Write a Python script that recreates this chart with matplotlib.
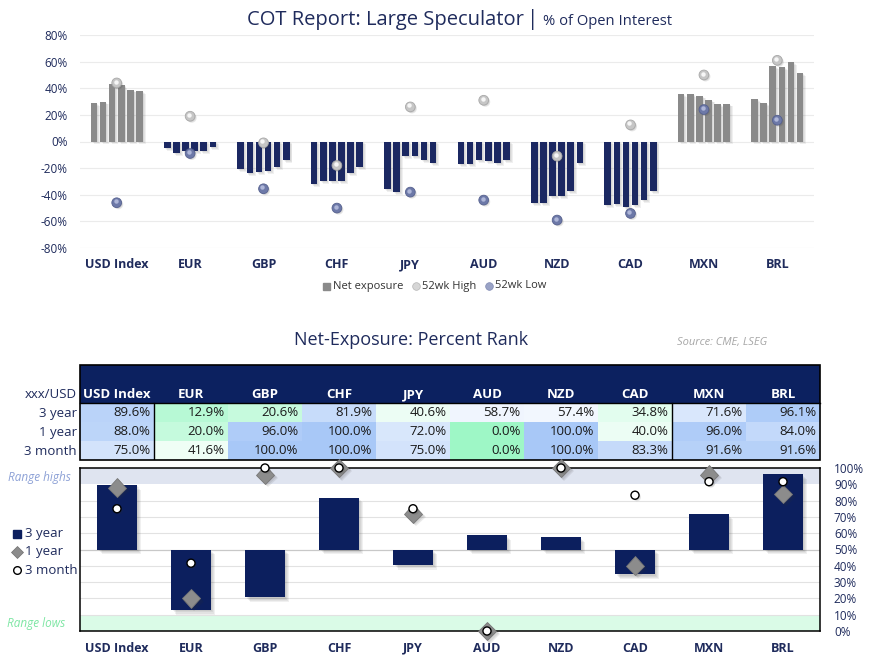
import matplotlib
matplotlib.use('Agg')
import matplotlib.pyplot as plt
import matplotlib.patheffects as pe
import matplotlib.transforms as mtransforms
import numpy as np
from matplotlib.colors import LinearSegmentedColormap
from matplotlib.patches import Rectangle

plt.rcParams['font.family'] = ['Open Sans', 'DejaVu Sans']

# ---------------- data ----------------
categories = ['USD Index', 'EUR', 'GBP', 'CHF', 'JPY', 'AUD', 'NZD', 'CAD', 'MXN', 'BRL']

# Net exposure, last 6 weeks (% of open interest)
net_usd = [29, 30, 43, 42.5, 39, 38]
net_eur = [-5, -9, -7.5, -7.5, -7.5, -4.5]
net_gbp = [-21, -24, -23, -22, -19.5, -14]
net_chf = [-32, -30, -30, -29.5, -24, -19]
net_jpy = [-36, -38, -11, -11, -14, -16]
net_aud = [-17, -17, -14, -15, -16, -14]
net_nzd = [-46, -46, -41, -41, -37, -16]
net_cad = [-48, -47, -49, -48, -44, -37]
net_mxn = [35.5, 35.5, 34.5, 31.5, 28, 28.5]
net_brl = [32, 29, 57, 56, 60, 51.5]
net_exposure = [net_usd, net_eur, net_gbp, net_chf, net_jpy,
                net_aud, net_nzd, net_cad, net_mxn, net_brl]

high_52wk = [44, 19, -1, -18, 26, 31, -11, 12.5, 50, 61]
low_52wk = [-46, -9, -35.5, -50, -38, -44, -59, -54, 24, 16]

rank_labels = ['3 year', '1 year', '3 month']
rank_3y = [89.6, 12.9, 20.6, 81.9, 40.6, 58.7, 57.4, 34.8, 71.6, 96.1]
rank_1y = [88.0, 20.0, 96.0, 100.0, 72.0, 0.0, 100.0, 40.0, 96.0, 84.0]
rank_3m = [75.0, 41.6, 100.0, 100.0, 75.0, 0.0, 100.0, 83.3, 91.6, 91.6]

top_ticks = [-80, -60, -40, -20, 0, 20, 40, 60, 80]
bottom_ticks = [0, 10, 20, 30, 40, 50, 60, 70, 80, 90, 100]

# ---------------- style ----------------
NAVY_TXT = '#1f2b5c'
NAVY_BAR = '#1b2862'
NAVY_HDR = '#0c2160'
NAVY_BAR2 = '#0c1f5e'
GRAY_BAR = '#8a8a8a'

W, H = 873, 670
fig = plt.figure(figsize=(W / 100, H / 100), dpi=100)


def fx(px):
    return px / W


def fy(py):
    return 1 - py / H


def soft_shadow(steps, alpha, color='#333333'):
    eff = [pe.SimplePatchShadow(offset=(s, -s), shadow_rgbFace=color, alpha=alpha)
           for s in steps]
    return eff + [pe.Normal()]


# overlay for free text (pixel coordinates)
ov = fig.add_axes([0, 0, 1, 1], zorder=10)
ov.set_xlim(0, W)
ov.set_ylim(H, 0)
ov.axis('off')
ov.patch.set_alpha(0)

# ---------------- top chart ----------------
ax1 = fig.add_axes([fx(80), fy(248), fx(814) - fx(80), fy(35) - fy(248)])
ax1.set_xlim(-0.5, len(categories) - 0.5)
ax1.set_ylim(-80, 80)
for s in ax1.spines.values():
    s.set_visible(False)
ax1.set_yticks(top_ticks)
ax1.set_yticklabels([f'{t}%' for t in top_ticks])
ax1.tick_params(axis='y', length=0, pad=9, labelsize=8.5, labelcolor=NAVY_TXT)
ax1.set_xticks([])
ax1.grid(axis='y', color='#ebebeb', lw=0.8)
ax1.set_axisbelow(True)

slot = 0.124
bw = 0.09
for i, vals in enumerate(net_exposure):
    n = len(vals)
    xs = i + (np.arange(n) - (n - 1) / 2) * slot
    cols = [GRAY_BAR if v >= 0 else NAVY_BAR for v in vals]
    bars = ax1.bar(xs, vals, width=bw, color=cols, zorder=2)
    for b in bars:
        b.set_path_effects(soft_shadow([0.7, 1.4, 2.1], 0.07))

xc = np.arange(len(categories))
hl = ax1.transData + mtransforms.ScaledTranslation(-0.8 / 72, 1.0 / 72, fig.dpi_scale_trans)
ax1.plot(xc, high_52wk, 'o', ms=7, mfc='#c6c6c6', mec='#a8a8a8', mew=0.6, zorder=4,
         path_effects=soft_shadow([0.6, 1.2], 0.12))
ax1.plot(xc, high_52wk, 'o', ms=3.2, mfc='#f6f6f6', mec='none', zorder=5, transform=hl)
ax1.plot(xc, low_52wk, 'o', ms=7, mfc='#6d79a8', mec='#56618f', mew=0.6, zorder=4,
         path_effects=soft_shadow([0.6, 1.2], 0.12))
ax1.plot(xc, low_52wk, 'o', ms=3.2, mfc='#aeb6d8', mec='none', zorder=5, transform=hl)

tr1 = mtransforms.blended_transform_factory(ax1.transData, fig.transFigure)
for i, c in enumerate(categories):
    ax1.text(i, fy(265), c, transform=tr1, ha='center', va='center', fontsize=9,
             fontweight='bold', color=NAVY_TXT)

# top legend
ov.add_patch(Rectangle((323, 282.5), 7, 7, color=GRAY_BAR))
ov.text(333, 286, 'Net exposure', fontsize=8, color='#333333', va='center', ha='left')
ov.plot([416], [286], 'o', ms=5.5, mfc='#d6d6d6', mec='#b5b5b5', mew=0.5)
ov.text(422, 286, '52wk High', fontsize=8, color='#333333', va='center', ha='left')
ov.plot([489], [286], 'o', ms=5.5, mfc='#9aa3c6', mec='#7f89b3', mew=0.5)
ov.text(495, 286, '52wk Low', fontsize=8, color='#333333', va='center', ha='left')

# top title
ov.text(524, 20, 'COT Report: Large Speculator', fontsize=14.5, color=NAVY_TXT,
        ha='right', va='center')
ov.text(533, 20, '|', fontsize=15, color=NAVY_TXT, ha='center', va='center')
ov.text(543, 21.5, '% of Open Interest', fontsize=10.6, color=NAVY_TXT, ha='left',
        va='center')

# ---------------- table ----------------
ov.text(411, 340, 'Net-Exposure: Percent Rank', fontsize=13, color=NAVY_TXT,
        ha='center', va='center')
ov.text(677, 342, 'Source: CME, LSEG', fontsize=8, color='#a6a6a6', style='italic',
        ha='left', va='center')

cmap = LinearSegmentedColormap.from_list('rank', ['#9ef7c6', '#ffffff', '#a8c8f7'])

axt = fig.add_axes([fx(80), fy(460), fx(820) - fx(80), fy(365) - fy(460)])
axt.set_xlim(0, len(categories))
axt.set_ylim(5, 0)
axt.axis('off')
axt.add_patch(Rectangle((0, 0), len(categories), 2, color=NAVY_HDR, lw=0))
for i, c in enumerate(categories):
    axt.text(i + 0.5, 1.55, c, ha='center', va='center', fontsize=9.5,
             fontweight='bold', color='white')
rows = [rank_3y, rank_1y, rank_3m]
for r, vals in enumerate(rows):
    for i, v in enumerate(vals):
        axt.add_patch(Rectangle((i, 2 + r), 1, 1, color=cmap(v / 100.0), lw=0))
        axt.text(i + 0.955, 2.5 + r, f'{v:.1f}%', ha='right', va='center',
                 fontsize=9.5, color='#1a1a1a')
axt.add_patch(Rectangle((0, 0), len(categories), 5, fill=False, ec='black', lw=1.2,
                        clip_on=False))
axt.plot([0, len(categories)], [2, 2], color='black', lw=1, clip_on=False)
axt.plot([1, 1], [2, 5], color='black', lw=1)
axt.plot([8, 8], [2, 5], color='black', lw=1)

ov.text(77, 394, 'xxx/USD', fontsize=9.5, color=NAVY_TXT, ha='right', va='center')
for r, lab in enumerate(rank_labels):
    ov.text(77, 413.5 + r * 19, lab, fontsize=9.5, color=NAVY_TXT, ha='right',
            va='center')

# ---------------- bottom chart ----------------
ax2 = fig.add_axes([fx(80), fy(631), fx(820) - fx(80), fy(468) - fy(631)])
ax2.set_xlim(-0.5, len(categories) - 0.5)
ax2.set_ylim(0, 100)
ax2.axhspan(90, 100, color='#dfe4f0', zorder=0, lw=0)
ax2.axhspan(0, 10, color='#dafbe7', zorder=0, lw=0)
for t in bottom_ticks[1:-1]:
    if t == 90:
        continue
    ax2.axhline(t, color='#c8c8c8' if t == 50 else '#e2e2e2', lw=0.9 if t == 50 else 0.8,
                zorder=0.5)
for s in ax2.spines.values():
    s.set_color('black')
    s.set_linewidth(1.1)
ax2.yaxis.tick_right()
ax2.set_yticks(bottom_ticks)
ax2.set_yticklabels([f'{t}%' for t in bottom_ticks])
ax2.tick_params(axis='y', length=0, pad=10, labelsize=8.5, labelcolor=NAVY_TXT)
ax2.set_xticks([])

bars2 = ax2.bar(xc, np.array(rank_3y) - 50, bottom=50, width=0.53, color=NAVY_BAR2, zorder=2)
for b in bars2:
    b.set_path_effects(soft_shadow([1.0, 1.8, 2.6, 3.4], 0.07))
ax2.plot(xc, rank_1y, 'D', ms=9.5, mfc='#8c8c8c', mec='#777777', mew=0.6, zorder=4,
         clip_on=False, path_effects=soft_shadow([0.8, 1.6, 2.4], 0.1))
ax2.plot(xc, rank_3m, 'o', ms=5.8, mfc='white', mec='black', mew=1.0, zorder=5,
         clip_on=False, path_effects=soft_shadow([0.7, 1.4], 0.12))

tr2 = mtransforms.blended_transform_factory(ax2.transData, fig.transFigure)
for i, c in enumerate(categories):
    ax2.text(i, fy(648), c, transform=tr2, ha='center', va='center', fontsize=9,
             fontweight='bold', color=NAVY_TXT)

# left legend
ov.add_patch(Rectangle((13, 530), 8, 8, color=NAVY_BAR2))
ov.text(25, 534, '3 year', fontsize=9.5, color=NAVY_TXT, ha='left', va='center')
ov.plot([17], [552], 'D', ms=6, mfc='#8c8c8c', mec='#6f6f6f', mew=0.5)
ov.text(25, 552, '1 year', fontsize=9.5, color=NAVY_TXT, ha='left', va='center')
ov.plot([17], [570], 'o', ms=5.5, mfc='white', mec='black', mew=1.0)
ov.text(25, 570, '3 month', fontsize=9.5, color=NAVY_TXT, ha='left', va='center')

ov.text(8, 477, 'Range highs', fontsize=8.5, color='#8da1d6', style='italic',
        ha='left', va='center')
ov.text(7, 623, 'Range lows', fontsize=8.5, color='#7ee6a4', style='italic',
        ha='left', va='center')

fig.savefig('out.png', dpi=100)
